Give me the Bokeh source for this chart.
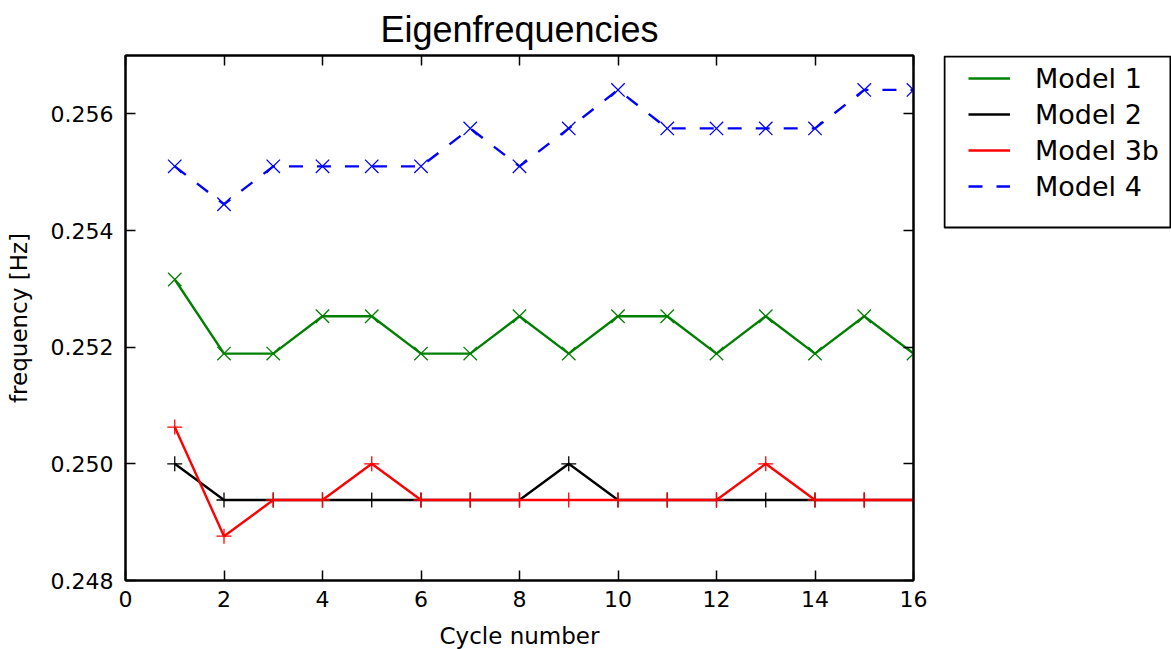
from bokeh.plotting import figure
from bokeh.layouts import row
from bokeh.models import (Range1d, LinearAxis, Legend, LegendItem, FixedTicker,
                          NumeralTickFormatter, CustomJSTickFormatter)
from bokeh.embed import file_html
from bokeh.resources import INLINE

# Eigenfrequency per load cycle for each model
cycles = list(range(1, 17))
model_1 = [0.25316, 0.25189, 0.25189, 0.25253, 0.25253, 0.25189, 0.25189, 0.25253,
           0.25189, 0.25253, 0.25253, 0.25189, 0.25253, 0.25189, 0.25253, 0.25189]
model_2 = [0.25000, 0.24938, 0.24938, 0.24938, 0.24938, 0.24938, 0.24938, 0.24938,
           0.25000, 0.24938, 0.24938, 0.24938, 0.24938, 0.24938, 0.24938, 0.24938]
model_3b = [0.25063, 0.24876, 0.24938, 0.24938, 0.25000, 0.24938, 0.24938, 0.24938,
            0.24938, 0.24938, 0.24938, 0.24938, 0.25000, 0.24938, 0.24938, 0.24938]
model_4 = [0.25510, 0.25445, 0.25510, 0.25510, 0.25510, 0.25510, 0.25575, 0.25510,
           0.25575, 0.25641, 0.25575, 0.25575, 0.25575, 0.25575, 0.25641, 0.25641]

series_names = ["Model 1", "Model 2", "Model 3b", "Model 4"]
series_colors = ["#008000", "black", "#ff0000", "#0000ff"]
series_dash = ["solid", "solid", "solid", "14 14"]
series_markers = ["x", "cross", "cross", "x"]

x_ticks = [0, 2, 4, 6, 8, 10, 12, 14, 16]
y_ticks = [0.248, 0.250, 0.252, 0.254, 0.256]

FONT = "DejaVu Sans"
LINE_W = 2.4

p = figure(frame_width=788, frame_height=525, output_backend="svg",
           toolbar_location=None,
           x_range=Range1d(0, 16), y_range=Range1d(0.248, 0.257),
           x_axis_location=None, y_axis_location=None,
           min_border_left=125, min_border_right=30, min_border_top=55,
           min_border_bottom=69, title="Eigenfrequencies")
p.grid.visible = False
p.outline_line_color = "black"
p.outline_line_width = 2
p.border_fill_color = "white"

p.title.text_font = "Liberation Sans"
p.title.text_font_size = "36px"
p.title.text_font_style = "normal"
p.title.align = "center"
p.title.text_color = "black"
p.title.standoff = 11

blank = CustomJSTickFormatter(code="return ''")


def style_axis(ax, ticks, formatter):
    ax.ticker = FixedTicker(ticks=ticks)
    ax.formatter = formatter
    ax.major_tick_in = 10
    ax.major_tick_out = 0
    ax.minor_tick_in = 0
    ax.minor_tick_out = 0
    ax.major_tick_line_color = "black"
    ax.major_tick_line_width = 1.5
    ax.axis_line_color = "black"
    ax.axis_line_width = 2
    ax.major_label_text_font = FONT
    ax.major_label_text_font_size = "22px"
    ax.major_label_text_color = "black"
    ax.axis_label_text_font = FONT
    ax.axis_label_text_font_size = "23px"
    ax.axis_label_text_font_style = "normal"
    ax.axis_label_text_color = "black"


xb = LinearAxis(axis_label="Cycle number")
style_axis(xb, x_ticks, NumeralTickFormatter(format="0"))
xb.major_label_standoff = 10
xb.axis_label_standoff = 13
p.add_layout(xb, "below")

yl = LinearAxis(axis_label="frequency [Hz]")
style_axis(yl, y_ticks, NumeralTickFormatter(format="0.000"))
yl.major_label_standoff = 12
yl.axis_label_standoff = 16
p.add_layout(yl, "left")

xt = LinearAxis()
style_axis(xt, x_ticks, blank)
xt.major_label_standoff = 0
p.add_layout(xt, "above")

yr = LinearAxis()
style_axis(yr, y_ticks, blank)
yr.major_label_standoff = 0
p.add_layout(yr, "right")

# series: lines plus markers
all_values = [model_1, model_2, model_3b, model_4]
for vals, color, dash, marker in zip(all_values, series_colors, series_dash,
                                     series_markers):
    p.line(cycles, vals, line_color=color, line_width=LINE_W, line_dash=dash)
    p.scatter(cycles, vals, marker=marker, size=19 if marker == "x" else 15,
              line_color=color, line_width=1.3)

# legend panel to the right of the axes; its frame lines up with the main
# frame, so its ranges are set in page pixels (y grows downward)
lg = figure(width=228, frame_height=525, output_backend="svg",
            toolbar_location=None,
            x_range=Range1d(0, 228), y_range=Range1d(580, 55),
            x_axis_location=None, y_axis_location=None, min_border=0,
            min_border_top=55, min_border_bottom=69)
lg.grid.visible = False
lg.outline_line_color = None
lg.border_fill_color = "white"
lg.quad(left=1, right=227, top=56, bottom=227, fill_color="white",
        line_color="black", line_width=2)

# legend swatches: line renderers kept outside the visible range
items = []
for name, color, dash in zip(series_names, series_colors, series_dash):
    r = lg.line([-50, -40], [700, 700], line_color=color, line_width=LINE_W,
                line_dash=dash)
    items.append(LegendItem(label=name, renderers=[r]))

legend = Legend(items=items, location=(25, 376), padding=0, spacing=0, margin=0,
                glyph_width=42, glyph_height=36, label_height=36, label_standoff=25,
                label_text_font=FONT, label_text_font_size="27px",
                label_text_color="black",
                border_line_alpha=0, background_fill_alpha=0)
lg.add_layout(legend)

page = row(p, lg)
open("out.html", "w").write(file_html(page, INLINE))
